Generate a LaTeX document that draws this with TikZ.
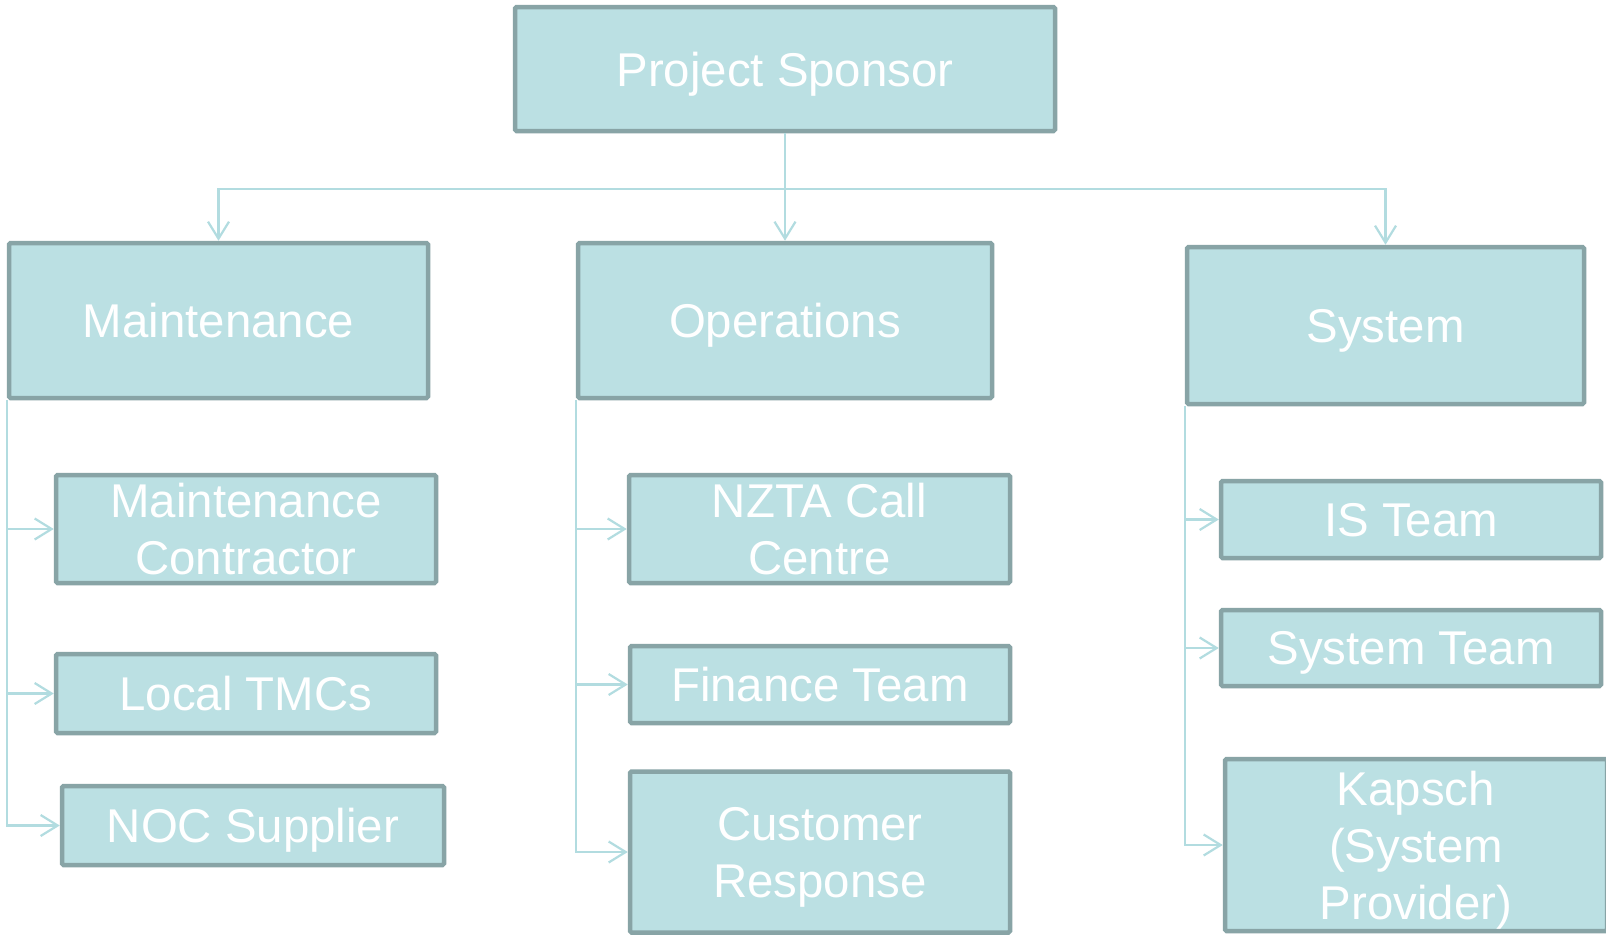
\documentclass[tikz,border=0pt]{standalone}
\usepackage{fontspec}
\setmainfont{Liberation Sans}
\usetikzlibrary{arrows.meta}
\definecolor{boxfill}{HTML}{BBE0E3}
\definecolor{boxline}{HTML}{88A4A6}
\definecolor{linkc}{HTML}{B2DCE0}
\begin{document}
\begin{tikzpicture}[x=1pt,y=-1pt,
  orgbox/.style={draw=boxline, fill=boxfill, line width=4.5pt, text=white,
    align=center, inner sep=0pt, rounded corners=1.5pt, text depth=0pt,
    font=\fontsize{47.4}{57}\selectfont},
  link/.style={draw=linkc, line width=2.2pt,
    -{Straight Barb[length=17pt,width=21pt]}},
  plain/.style={draw=linkc, line width=2.2pt}]
\fill[white] (0,0) rectangle (1606,937);
\useasboundingbox (0,0) rectangle (1606,937);

% top level
\node[orgbox, minimum width=540, minimum height=124] (ps) at (785,69) {Project Sponsor};

% second level
\node[orgbox, minimum width=419, minimum height=155] (maint) at (218.5,320.5) {Maintenance};
\node[orgbox, minimum width=414, minimum height=155] (ops) at (785,320.5) {Operations};
\node[orgbox, minimum width=397, minimum height=157] (sys) at (1385.5,325.5) {System};

% maintenance branch
\node[orgbox, minimum width=380, minimum height=108] (mc) at (246,529) {Maintenance\\Contractor};
\node[orgbox, minimum width=380, minimum height=79] (tmc) at (246,693.5) {Local TMCs};
\node[orgbox, minimum width=382, minimum height=79] (noc) at (253,825.5) {NOC Supplier};

% operations branch
\node[orgbox, minimum width=381, minimum height=108] (nzta) at (819.5,529) {NZTA Call\\Centre};
\node[orgbox, minimum width=380, minimum height=77] (fin) at (820,684.5) {Finance Team};
\node[orgbox, minimum width=380, minimum height=161] (cust) at (820,852) {Customer\\Response};

% system branch
\node[orgbox, minimum width=380, minimum height=77] (is) at (1411,519.5) {IS Team};
\node[orgbox, minimum width=380, minimum height=76] (st) at (1411,648) {System Team};
\node[orgbox, minimum width=382, minimum height=172] (kap) at (1416,845) {Kapsch\\(System\\Provider)};

% links from the sponsor
\coordinate (bus) at (785,189);
\draw[plain] (ps.south) -- (bus);
\draw[link] (bus) -| (maint.north);
\draw[link] (bus) -| (sys.north);
\draw[link] (ps.south) -- (ops.north);

% links to the teams
\draw[link] (maint.south west) |- (mc.west);
\draw[link] (maint.south west) |- (tmc.west);
\draw[link] (maint.south west) |- (noc.west);
\draw[link] (ops.south west) |- (nzta.west);
\draw[link] (ops.south west) |- (fin.west);
\draw[link] (ops.south west) |- (cust.west);
\draw[link] (sys.south west) |- (is.west);
\draw[link] (sys.south west) |- (st.west);
\draw[link] (sys.south west) |- (kap.west);
\end{tikzpicture}
\end{document}
